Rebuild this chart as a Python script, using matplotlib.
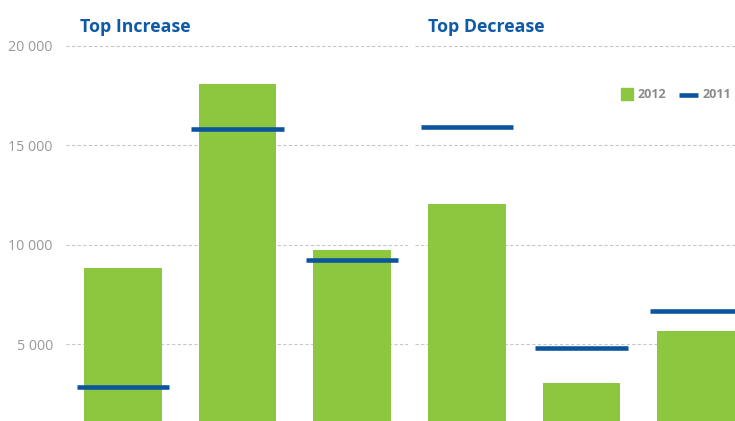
import matplotlib.pyplot as plt
from matplotlib.patches import Rectangle
from matplotlib.lines import Line2D

plt.rcParams['font.family'] = ['Open Sans', 'DejaVu Sans']

GREEN = "#8dc63f"
BLUE = "#0b559f"
GREY = "#999999"

panel_titles = ["Top Increase", "Top Decrease"]
values_2012 = [[8820, 18070, 9750], [12060, 3040, 5650]]
values_2011 = [[2840, 15800, 9250], [15900, 4800, 6660]]
yticks = [5000, 10000, 15000, 20000]
ytick_labels = ["5 000", "10 000", "15 000", "20 000"]

W, H = 735, 421
fig = plt.figure(figsize=(W / 100, H / 100), dpi=100)

# axes boxes in pixels: (left, right) and x-limits so bars land where they should
boxes = [(66, 408, (-0.497, 2.489)), (415, 735, (-0.454, 2.34))]
title_x = [80, 428]

for i, (x0, x1, xl) in enumerate(boxes):
    ax = fig.add_axes([x0 / W, 0, (x1 - x0) / W, 1])
    pos = range(len(values_2012[i]))
    ax.bar(pos, values_2012[i], width=0.68, color=GREEN, zorder=2)
    ax.hlines(values_2011[i], [p - 0.405 for p in pos], [p + 0.405 for p in pos],
              color=BLUE, lw=3.3, zorder=3)
    ax.set_xlim(*xl)
    ax.set_ylim(1130, 22310)
    ax.set_yticks(yticks)
    for y in yticks:
        ax.axhline(y, color="#c8c8c8", lw=0.8, ls=(0, (3, 2)), zorder=1)
    ax.tick_params(left=False, bottom=False, labelbottom=False)
    if i == 0:
        ax.set_yticklabels(ytick_labels, color=GREY, fontsize=10.3)
        ax.tick_params(axis="y", pad=6)
    else:
        ax.tick_params(labelleft=False)
    for s in ax.spines.values():
        s.set_visible(False)
    ax.patch.set_alpha(0)
    fig.text(title_x[i] / W, 1 - 27 / H, panel_titles[i], color="#0e5aa7",
             fontsize=12.8, fontweight="bold", va="center", ha="left")

# legend
fig.patches.append(Rectangle((621 / W, 1 - 100 / H), 12 / W, 12 / H,
                             transform=fig.transFigure, color=GREEN))
fig.text(638 / W, 1 - 95 / H, "2012", color="#8a8a8a", fontsize=9,
         fontweight="bold", va="center")
fig.lines.append(Line2D([679 / W, 698 / W], [1 - 95 / H] * 2,
                        transform=fig.transFigure, color=BLUE, lw=3.3,
                        solid_capstyle="butt"))
fig.text(703 / W, 1 - 95 / H, "2011", color="#8a8a8a", fontsize=9,
         fontweight="bold", va="center")

fig.savefig("out.png", dpi=100)
